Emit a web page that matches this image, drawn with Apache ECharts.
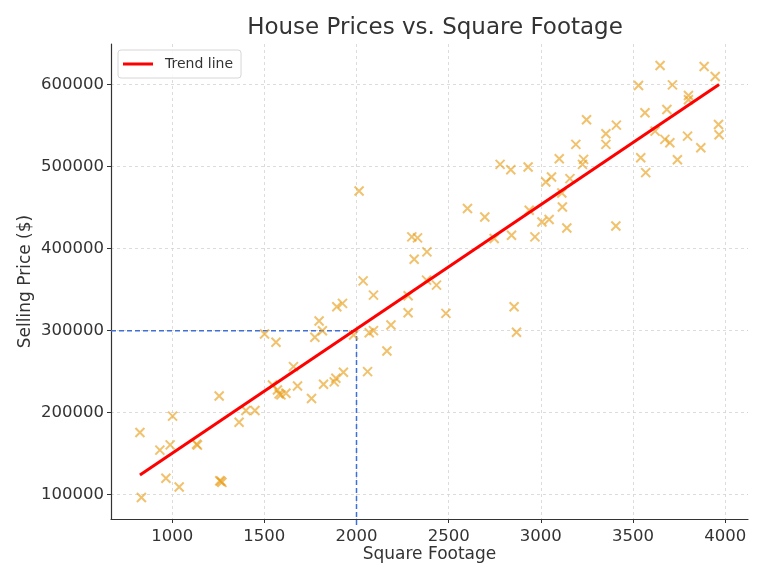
<!DOCTYPE html>
<html>
<head>
<meta charset="utf-8">
<title>House Prices vs. Square Footage</title>
<script src="https://cdn.jsdelivr.net/npm/echarts@6/dist/echarts.min.js"></script>
<style>
  html, body { margin: 0; padding: 0; background: #fff; }
  #chart { width: 768px; height: 576px; }
</style>
</head>
<body>
<div id="chart"></div>
<script>
// values
const sqft = [825, 833, 933, 966, 989, 1002, 1038, 1132, 1137, 1255, 1258, 1264, 1270, 1363, 1400, 1449,
  1501, 1544, 1563, 1571, 1580, 1590, 1617, 1658, 1680, 1756, 1774, 1797, 1815, 1821, 1879, 1888, 1893,
  1924, 1929, 1984, 2014, 2036, 2060, 2069, 2092, 2092, 2165, 2187, 2280, 2280, 2300, 2313, 2331, 2380,
  2382, 2434, 2485, 2602, 2696, 2747, 2779, 2837, 2841, 2855, 2868, 2931, 2937, 2968, 3006, 3027, 3045,
  3058, 3100, 3114, 3117, 3141, 3158, 3190, 3226, 3232, 3248, 3353, 3353, 3407, 3410, 3530, 3542, 3565,
  3569, 3620, 3647, 3673, 3684, 3700, 3714, 3741, 3796, 3801, 3801, 3868, 3886, 3946, 3964, 3967];
const price = [175800, 96700, 154400, 120000, 160800, 195800, 109400, 161700, 160500, 220400, 117000, 116500, 115000, 188400, 202600, 202600,
  295900, 233800, 285800, 227700, 222900, 221700, 223700, 256100, 232600, 217200, 291900, 311700, 299900, 234700, 237500, 242000, 329100,
  333200, 249300, 294700, 470200, 360700, 250000, 297500, 300000, 343300, 275200, 306800, 342500, 321900, 414300, 387100, 413100, 361600,
  396000, 355500, 321000, 448800, 438600, 412300, 502700, 496200, 416300, 329100, 298000, 499400, 446700, 414300, 432500, 481200, 435400,
  487200, 509600, 467800, 450800, 425200, 485300, 527000, 502700, 508800, 557100, 540000, 527000, 427600, 550500, 598800, 510800, 565600,
  492600, 543200, 623100, 533100, 569600, 529100, 599600, 508400, 537100, 586600, 581400, 523000, 621900, 609700, 551300, 538800];

// trend line end points
const trendX = [825, 3967];
const trendY = [124100, 600100];

// reference guide at 2000 sq ft -> $300000
const refX = 2000;
const refY = 300000;

const xTicks = [1000, 1500, 2000, 2500, 3000, 3500, 4000];
const yTicks = [100000, 200000, 300000, 400000, 500000, 600000];
const xRange = [668, 4124];
const yRange = [70400, 649400];

const FONT = 'DejaVu Sans';
const TEXT = '#333';

const chart = echarts.init(document.getElementById('chart'));

const axisCommon = {
  type: 'value',
  nameLocation: 'middle',
  nameMoveOverlap: false,
  nameTextStyle: { fontFamily: FONT, fontSize: 17, color: TEXT },
  axisLine: { show: true, lineStyle: { color: '#333', width: 1.2 } },
  axisTick: { show: true, inside: false, length: 4, lineStyle: { color: '#333', width: 1 } },
  splitLine: { show: true, lineStyle: { color: '#d3d3d3', width: 0.8, type: [3, 3] } }
};

// plain numbers, no thousands separator
const plain = v => String(v);

const option = {
  backgroundColor: '#fff',
  animation: false,
  title: {
    text: 'House Prices vs. Square Footage',
    left: 430,
    top: 12,
    textAlign: 'center',
    textStyle: { fontFamily: FONT, fontSize: 23, fontWeight: 'normal', color: TEXT }
  },
  legend: {
    left: 118,
    top: 50,
    padding: [7, 8, 7, 5],
    itemWidth: 30,
    itemHeight: 3,
    borderColor: '#d6d6d6',
    borderWidth: 1,
    borderRadius: 3,
    backgroundColor: 'rgba(255,255,255,0.85)',
    textStyle: { fontFamily: FONT, fontSize: 14, color: TEXT, padding: [0, 0, 0, 7] },
    data: [{ name: 'Trend line', icon: 'rect' }]
  },
  grid: { left: 111, right: 20, top: 44, bottom: 57 },
  xAxis: Object.assign({}, axisCommon, {
    name: 'Square Footage',
    nameGap: 27,
    min: xRange[0],
    max: xRange[1],
    axisTick: Object.assign({}, axisCommon.axisTick, { customValues: xTicks }),
    axisLabel: { customValues: xTicks, formatter: plain, margin: 9, fontFamily: FONT, fontSize: 16.5, color: TEXT }
  }),
  yAxis: Object.assign({}, axisCommon, {
    name: 'Selling Price ($)',
    nameGap: 77,
    min: yRange[0],
    max: yRange[1],
    axisTick: Object.assign({}, axisCommon.axisTick, { customValues: yTicks }),
    axisLabel: { customValues: yTicks, formatter: plain, margin: 7, fontFamily: FONT, fontSize: 16.5, color: TEXT }
  }),
  series: [
    {
      name: 'Houses',
      type: 'scatter',
      symbol: 'path://M0,0L10,10M10,0L0,10',
      symbolSize: 9,
      itemStyle: {
        color: 'rgba(0,0,0,0)',
        borderColor: 'rgba(233,160,28,0.8)',
        borderWidth: 2
      },
      data: sqft.map((x, i) => [x, price[i]]),
      z: 3
    },
    {
      name: 'Trend line',
      type: 'line',
      showSymbol: false,
      lineStyle: { color: '#ff0000', width: 3 },
      itemStyle: { color: '#ff0000' },
      data: trendX.map((x, i) => [x, trendY[i]]),
      z: 4
    },
    {
      name: 'guide-v',
      type: 'line',
      showSymbol: false,
      clip: false,
      lineStyle: { color: '#4070d4', width: 1.5, type: [5, 3] },
      data: [[refX, 63000], [refX, refY]],
      z: 2
    },
    {
      name: 'guide-h',
      type: 'line',
      showSymbol: false,
      lineStyle: { color: '#4070d4', width: 1.5, type: [5, 3] },
      data: [[xRange[0], refY], [refX, refY]],
      z: 2
    }
  ]
};

chart.setOption(option);
</script>
</body>
</html>
